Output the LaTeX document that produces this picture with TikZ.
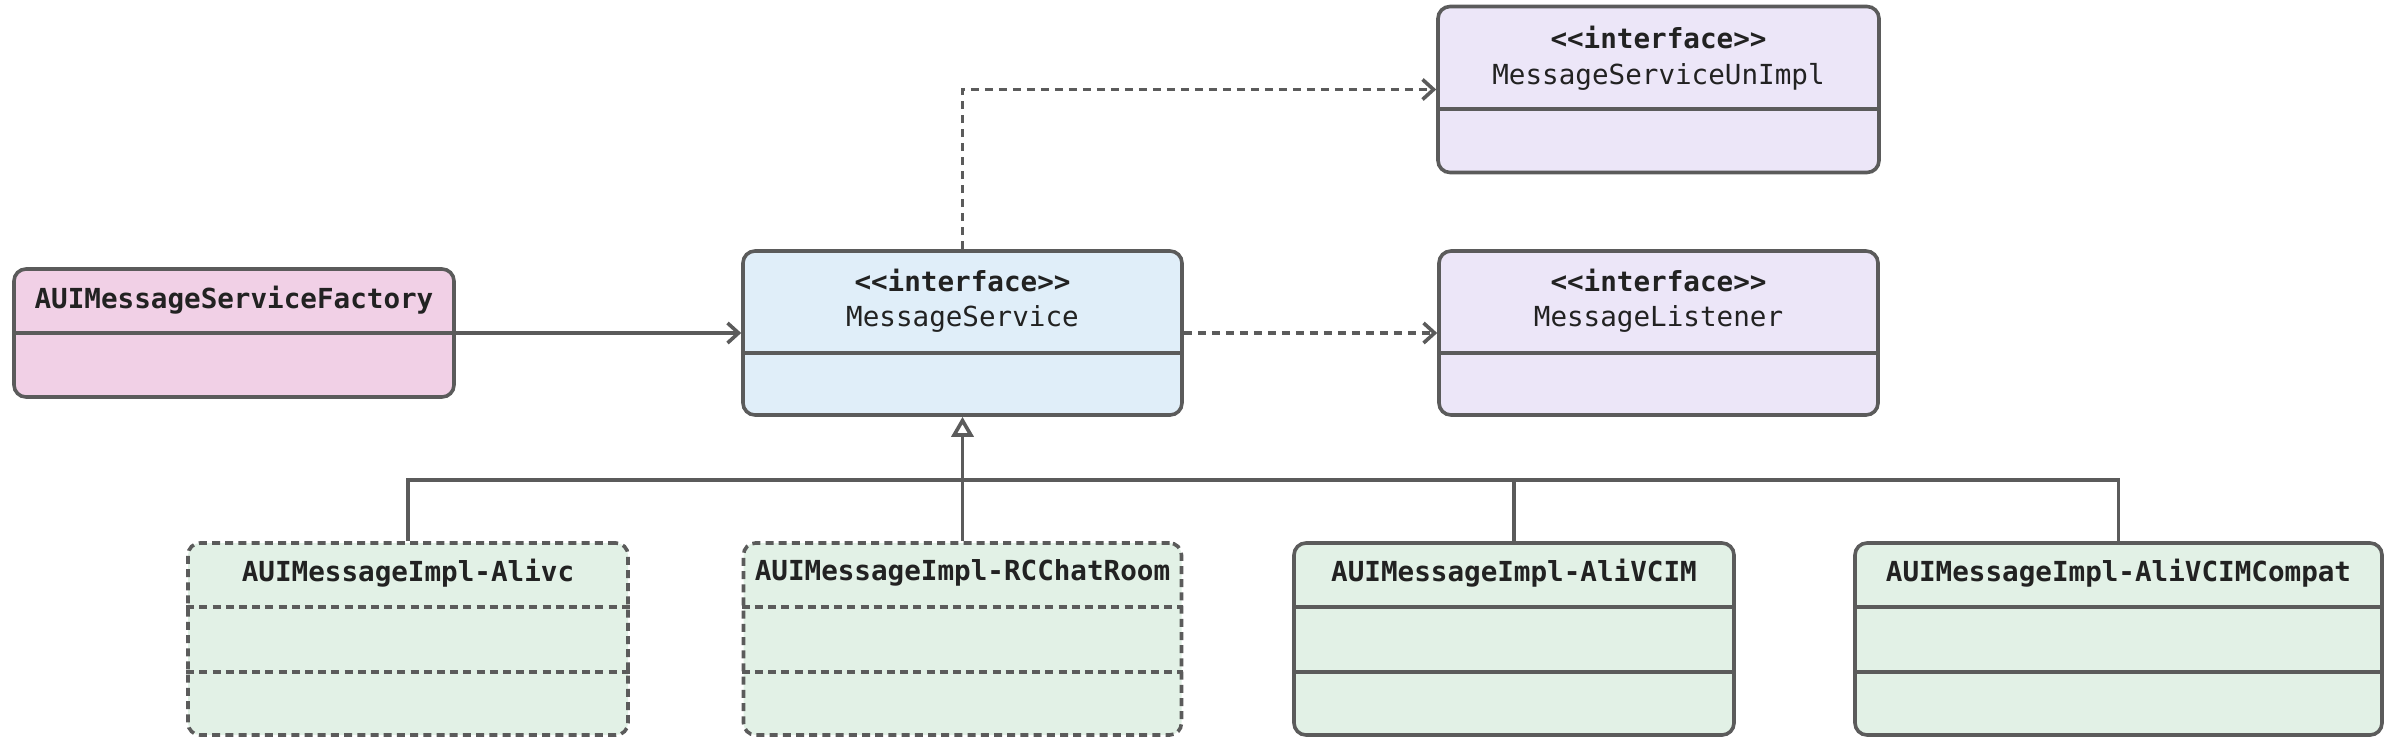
\documentclass[tikz,border=0pt]{standalone}
\usepackage{fontspec}
\setmonofont{DejaVu Sans Mono}
\usetikzlibrary{arrows.meta}
\definecolor{linec}{HTML}{5B5B5B}
\definecolor{txtc}{HTML}{222222}
\definecolor{pinkf}{HTML}{F1D0E6}
\definecolor{bluef}{HTML}{E0EEF9}
\definecolor{lavf}{HTML}{ECE6F8}
\definecolor{greenf}{HTML}{E2F1E6}
\tikzset{
  umlbox/.style={draw=linec, line width=1.8pt, rounded corners=6pt, inner sep=0pt},
  dashbox/.style={umlbox, dash pattern=on 4pt off 2.6pt},
  sepline/.style={draw=linec, line width=1.8pt},
  dsepline/.style={sepline, dash pattern=on 4pt off 2.6pt},
  lbl/.style={font=\ttfamily\fontsize{13.8}{16}\selectfont, text=txtc, inner sep=0pt, anchor=center},
  blbl/.style={lbl, font=\ttfamily\bfseries\fontsize{13.8}{16}\selectfont},
  conn/.style={draw=linec, line width=1.8pt},
  dconn/.style={conn, dash pattern=on 4pt off 3pt},
  barb/.style={-{Straight Barb[length=5.5pt,width=10pt,line width=1.8pt]}},
  tri/.style={-{Triangle[open,length=10pt,width=11pt,line width=1.8pt,fill=white]}}
}
\begin{document}
\begin{tikzpicture}[x=0.5pt,y=-0.5pt]
\useasboundingbox (0,0) rectangle (2400,741);
% boxes
\node[umlbox, fill=pinkf, minimum width=220pt, minimum height=64pt] (fac) at (234,333) {};
\node[umlbox, fill=bluef, minimum width=219.5pt, minimum height=82pt] (ms) at (962.5,333) {};
\node[umlbox, fill=lavf, minimum width=220.5pt, minimum height=83pt] (unimpl) at (1658.5,89.5) {};
\node[umlbox, fill=lavf, minimum width=219.5pt, minimum height=82pt] (lis) at (1658.5,333) {};
\node[dashbox, fill=greenf, minimum width=220pt, minimum height=96pt] (al) at (408,639) {};
\node[dashbox, fill=greenf, minimum width=219pt, minimum height=96pt] (rc) at (962.5,639) {};
\node[umlbox, fill=greenf, minimum width=220pt, minimum height=96pt] (vc) at (1514,639) {};
\node[umlbox, fill=greenf, minimum width=263.5pt, minimum height=96pt] (vcc) at (2118.5,639) {};
% separators
\draw[sepline] (fac.west |- 0,333) -- (fac.east |- 0,333);
\draw[sepline] (ms.west |- 0,353) -- (ms.east |- 0,353);
\draw[sepline] (unimpl.west |- 0,109) -- (unimpl.east |- 0,109);
\draw[sepline] (lis.west |- 0,353) -- (lis.east |- 0,353);
\draw[dsepline] (al.west |- 0,607) -- (al.east |- 0,607);
\draw[dsepline] (al.west |- 0,672) -- (al.east |- 0,672);
\draw[dsepline] (rc.west |- 0,607) -- (rc.east |- 0,607);
\draw[dsepline] (rc.west |- 0,672) -- (rc.east |- 0,672);
\draw[sepline] (vc.west |- 0,607) -- (vc.east |- 0,607);
\draw[sepline] (vc.west |- 0,672) -- (vc.east |- 0,672);
\draw[sepline] (vcc.west |- 0,607) -- (vcc.east |- 0,607);
\draw[sepline] (vcc.west |- 0,672) -- (vcc.east |- 0,672);
% labels
\node[blbl] (facT) at (234,300) {AUIMessageServiceFactory};
\node[blbl] (msS) at (962.5,280) {<{}<interface>{}>};
\node[lbl] (msT) at (962.5,319) {MessageService};
\node[blbl] (unS) at (1658.5,37) {<{}<interface>{}>};
\node[lbl] (unT) at (1658.5,77) {MessageServiceUnImpl};
\node[blbl] (liS) at (1658.5,280) {<{}<interface>{}>};
\node[lbl] (liT) at (1658.5,319) {MessageListener};
\node[blbl] (alT) at (408,573) {AUIMessageImpl-Alivc};
\node[blbl] (rcT) at (962.5,573) {AUIMessageImpl-RCChatRoom};
\node[blbl] (vcT) at (1514,573) {AUIMessageImpl-AliVCIM};
\node[blbl] (vccT) at (2118.5,573) {AUIMessageImpl-AliVCIMCompat};
% connectors
\draw[conn, barb] (fac.east) -- (ms.west);
\draw[dconn, barb] (ms.east) -- (lis.west);
\draw[dconn, barb] (ms.north) |- (unimpl.west);
\coordinate (bar) at (962.5,480);
\draw[conn] (al.north) |- (bar);
\draw[conn] (vcc.north) |- (bar);
\draw[conn] (vc.north) -- (vc.north |- bar);
\draw[conn] (rc.north) -- (bar);
\draw[conn, tri] (bar) -- (ms.south);
\end{tikzpicture}
\end{document}
